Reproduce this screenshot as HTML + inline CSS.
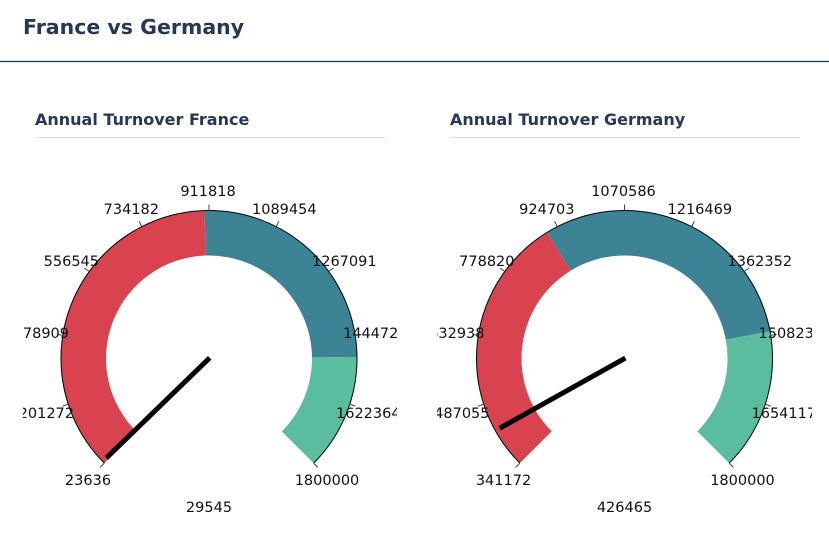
<!DOCTYPE html>
<html><head><meta charset="utf-8"><style>
body{margin:0;background:#fff;width:829px;height:540px;overflow:hidden;font-family:"DejaVu Sans","Liberation Sans",sans-serif}
</style></head><body>
<svg id="s" width="829" height="540" xmlns="http://www.w3.org/2000/svg" style="position:absolute;left:0;top:0">
<text x="23" y="34" font-size="20.5" font-weight="bold" fill="#253858" font-family="DejaVu Sans, sans-serif">France vs Germany</text>
<line x1="0" y1="61.5" x2="829" y2="61.5" stroke="#1f3a56" stroke-width="1.2"/>
<text x="35" y="125" font-size="16" font-weight="bold" fill="#253858" font-family="DejaVu Sans, sans-serif">Annual Turnover France</text>
<line x1="35" y1="137.5" x2="385" y2="137.5" stroke="#ddd" stroke-width="1"/>
<text x="450" y="125" font-size="16" font-weight="bold" fill="#253858" font-family="DejaVu Sans, sans-serif">Annual Turnover Germany</text>
<line x1="450" y1="137.5" x2="800" y2="137.5" stroke="#ddd" stroke-width="1"/>
<defs>
<clipPath id="c1"><rect x="23" y="140" width="374" height="400"/></clipPath>
<clipPath id="c2"><rect x="437" y="140" width="375" height="400"/></clipPath>
</defs>
<g id="g1" clip-path="url(#c1)"></g>
<g id="g2" clip-path="url(#c2)"></g>
</svg>
<script>
function gauge(id,cx,cy,min,max,val,labels){
  var R=148,r=103,g=document.getElementById(id),h='';
  function ang(v){return (-135+270*(v-min)/(max-min))*Math.PI/180;}
  function pt(a,rad){return [cx+rad*Math.sin(a),cy-rad*Math.cos(a)];}
  function band(v0,v1,col){
    var a0=ang(v0),a1=ang(v1),p0=pt(a0,R),p1=pt(a1,R),q1=pt(a1,r),q0=pt(a0,r);
    var lg=(a1-a0)>Math.PI?1:0;
    h+='<path d="M'+p0+' A'+R+' '+R+' 0 '+lg+' 1 '+p1+' L'+q1+' A'+r+' '+r+' 0 '+lg+' 0 '+q0+' Z" fill="'+col+'"/>';
  }
  band(min,900000,'#d9434f');band(900000,1500000,'#3d8396');band(1500000,max,'#5bbda0');
  var a0=ang(min),a1=ang(max),p0=pt(a0,R),p1=pt(a1,R);
  h+='<path d="M'+p0+' A'+R+' '+R+' 0 1 1 '+p1+'" fill="none" stroke="#000" stroke-width="1"/>';
  for(var i=0;i<=10;i++){var a=ang(min+(max-min)*i/10),u=pt(a,R),w=pt(a,R+6);
    h+='<line x1="'+u[0]+'" y1="'+u[1]+'" x2="'+w[0]+'" y2="'+w[1]+'" stroke="#444" stroke-width="1"/>';}
  var pos=[[-121,485,'middle'],[-135,418,'end'],[-140,338,'end'],[-110,266,'end'],[-50,214,'end'],[-1,196,'middle'],[43,214,'start'],[103,266,'start'],[134,338,'start'],[127,418,'start'],[118,485,'middle']];
  for(var i=0;i<=10;i++){var p=pos[i];
    h+='<text x="'+(cx+p[0])+'" y="'+p[1]+'" text-anchor="'+p[2]+'" font-size="14.5" fill="#111">'+labels[i]+'</text>';}
  var a=ang(val),e=pt(a,143),s=pt(a,-1);
  h+='<line x1="'+s[0]+'" y1="'+s[1]+'" x2="'+e[0]+'" y2="'+e[1]+'" stroke="#000" stroke-width="5"/>';
  h+='<text x="'+cx+'" y="512" text-anchor="middle" font-size="14.5" fill="#111">'+val+'</text>';
  g.innerHTML=h;
}
gauge('g1',209,358.5,23636,1800000,29545,['23636','201272','378909','556545','734182','911818','1089454','1267091','1444727','1622364','1800000']);
gauge('g2',624.5,358.5,341172,1800000,426465,['341172','487055','632938','778820','924703','1070586','1216469','1362352','1508234','1654117','1800000']);
</script>
</body></html>
